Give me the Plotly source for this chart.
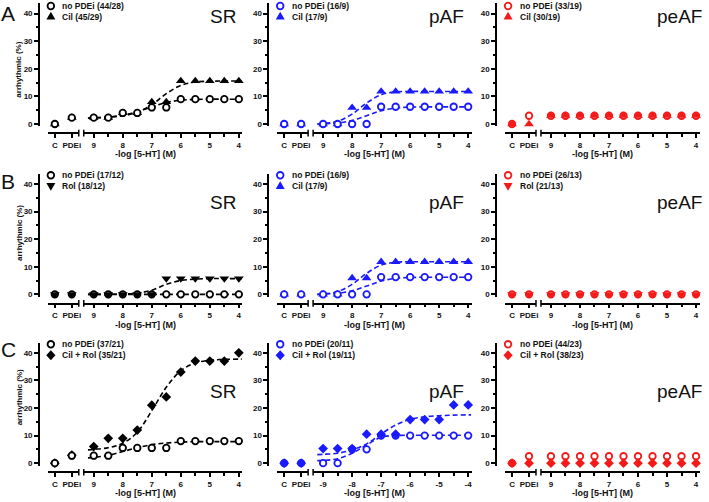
import plotly.graph_objects as go

W, H = 709, 502

# ---------------- data ----------------
conc = [9, 8.5, 8, 7.5, 7, 6.5, 6, 5.5, 5, 4.5, 4]
ctrl_labels = ["C", "PDEi"]
conc_tickvals = [9, 8, 7, 6, 5, 4]
conc_ticktext = ["9", "8", "7", "6", "5", "4"]
conc_ticktext_neg = ["-9", "-8", "-7", "-6", "-5", "-4"]
y_tickvals = [0, 10, 20, 30, 40]
fit_x = [9.2, 9.0, 8.5, 8.0, 7.5, 7.0, 6.5, 6.0, 5.5, 5.0, 4.5, 4.0, 3.9]

# Row A
a_sr_nopdei_ctrl = [0, 2.3]
a_sr_nopdei = [2.3, 2.3, 4.0, 4.0, 6.0, 6.0, 9.0, 9.0, 9.0, 9.0, 9.0]
a_sr_cil_ctrl = [0, 2.3]
a_sr_cil = [2.3, 2.3, 4.0, 4.0, 8.0, 8.0, 15.6, 15.6, 15.6, 15.6, 15.6]
a_sr_nopdei_fit = [2.1, 2.2, 2.5, 3.2, 4.5, 6.2, 7.8, 8.6, 8.9, 9.0, 9.0, 9.0, 9.0]
a_sr_cil_fit = [2.2, 2.3, 2.5, 3.0, 4.2, 7.0, 11.0, 14.0, 15.2, 15.5, 15.6, 15.6, 15.6]

a_paf_nopdei_ctrl = [0, 0]
a_paf_nopdei = [0, 0, 0, 0, 6.25, 6.25, 6.25, 6.25, 6.25, 6.25, 6.25]
a_paf_cil_ctrl = [0, 0]
a_paf_cil = [0, 0, 5.9, 5.9, 11.8, 11.8, 11.8, 11.8, 11.8, 11.8, 11.8]
a_paf_nopdei_fit = [0, 0.1, 0.4, 1.3, 3.0, 4.8, 5.8, 6.1, 6.2, 6.2, 6.2, 6.2, 6.2]
a_paf_cil_fit = [0, 0.1, 1.0, 3.6, 7.6, 10.6, 11.6, 11.8, 11.8, 11.8, 11.8, 11.8, 11.8]

a_peaf_nopdei_ctrl = [0, 3.0]
a_peaf_nopdei = [3.0, 3.0, 3.0, 3.0, 3.0, 3.0, 3.0, 3.0, 3.0, 3.0, 3.0]
a_peaf_cil_ctrl = [0, 0]
a_peaf_cil = [3.0, 3.0, 3.0, 3.0, 3.0, 3.0, 3.0, 3.0, 3.0, 3.0, 3.0]

# Row B
b_sr_nopdei_ctrl = [0, 0]
b_sr_nopdei = [0, 0, 0, 0, 0, 0, 0, 0, 0, 0, 0]
b_sr_rol_ctrl = [0, 0]
b_sr_rol = [0, 0, 0, 0, 0, 5.7, 5.7, 5.7, 5.7, 5.7, 5.7]
b_sr_nopdei_fit = [0, 0, 0, 0, 0, 0, 0, 0, 0, 0, 0, 0, 0]
b_sr_rol_fit = [0, 0, 0, 0.1, 0.4, 1.5, 3.6, 5.0, 5.5, 5.7, 5.7, 5.7, 5.7]

b_paf_nopdei_ctrl = [0, 0]
b_paf_nopdei = [0, 0, 0, 0, 6.25, 6.25, 6.25, 6.25, 6.25, 6.25, 6.25]
b_paf_cil_ctrl = [0, 0]
b_paf_cil = [0, 0, 5.9, 5.9, 11.8, 11.8, 11.8, 11.8, 11.8, 11.8, 11.8]
b_paf_nopdei_fit = [0, 0.1, 0.4, 1.3, 3.0, 4.8, 5.8, 6.1, 6.2, 6.2, 6.2, 6.2, 6.2]
b_paf_cil_fit = [0, 0.1, 1.0, 3.6, 7.6, 10.6, 11.6, 11.8, 11.8, 11.8, 11.8, 11.8, 11.8]

b_peaf_nopdei_ctrl = [0, 0]
b_peaf_nopdei = [0, 0, 0, 0, 0, 0, 0, 0, 0, 0, 0]
b_peaf_rol_ctrl = [0, 0]
b_peaf_rol = [0, 0, 0, 0, 0, 0, 0, 0, 0, 0, 0]

# Row C
c_sr_nopdei_ctrl = [0, 2.7]
c_sr_nopdei = [2.7, 2.7, 5.5, 5.5, 5.5, 5.5, 8.0, 8.0, 8.0, 8.0, 8.0]
c_sr_cilrol_ctrl = [0, 2.9]
c_sr_cilrol = [6.0, 9.0, 9.0, 12.0, 21.0, 24.0, 33.0, 37.0, 37.0, 37.0, 40.0]
c_sr_nopdei_fit = [1.9, 2.1, 2.8, 4.2, 5.6, 6.7, 7.3, 7.6, 7.8, 7.8, 7.8, 7.8, 7.8]
c_sr_cilrol_fit = [4.8, 5.0, 5.6, 7.2, 11.2, 19.0, 27.5, 33.5, 36.3, 37.3, 37.6, 37.7, 37.7]

c_paf_nopdei_ctrl = [0, 0]
c_paf_nopdei = [0, 0, 5.0, 5.0, 10.0, 10.0, 10.0, 10.0, 10.0, 10.0, 10.0]
c_paf_cilrol_ctrl = [0, 0]
c_paf_cilrol = [5.3, 5.3, 5.3, 10.5, 10.5, 10.5, 15.8, 15.8, 15.8, 21.1, 21.1]
c_paf_nopdei_fit = [0.9, 1.0, 1.6, 3.6, 6.6, 9.4, 10.0, 10.1, 10.1, 10.1, 10.1, 10.1, 10.1]
c_paf_cilrol_fit = [3.1, 3.2, 3.6, 4.8, 7.0, 10.6, 13.8, 15.9, 16.8, 17.2, 17.4, 17.5, 17.5]

c_peaf_nopdei_ctrl = [0, 2.5]
c_peaf_nopdei = [2.5, 2.5, 2.5, 2.5, 2.5, 2.5, 2.5, 2.5, 2.5, 2.5, 2.5]
c_peaf_cilrol_ctrl = [0, 0]
c_peaf_cilrol = [0, 0, 0, 0, 0, 0, 0, 0, 0, 0, 0]

panel_letters = ["A", "B", "C"]
panel_titles = ["SR", "pAF", "peAF"]
legend_labels = [
    ["no PDEi (44/28)", "Cil (45/29)"], ["no PDEi (16/9)", "Cil (17/9)"], ["no PDEi (33/19)", "Cil (30/19)"],
    ["no PDEi (17/12)", "Rol (18/12)"], ["no PDEi (16/9)", "Cil (17/9)"], ["no PDEi (26/13)", "Rol (21/13)"],
    ["no PDEi (37/21)", "Cil + Rol (35/21)"], ["no PDEi (20/11)", "Cil + Rol (19/11)"], ["no PDEi (44/23)", "Cil + Rol (38/23)"],
]

# ---------------- styling / layout ----------------
BLACK, BLUE, RED = "#000000", "#1a1aff", "#f51a1a"
col_colors = [BLACK, BLUE, RED]
row_symbol = ["triangle-up", "triangle-down", "diamond"]
FONT = "Liberation Sans, Arial, sans-serif"

panels = [
    # (nopdei_ctrl, nopdei, drug_ctrl, drug, nopdei_fit, drug_fit, drug_on_top, neg_ticks)
    (a_sr_nopdei_ctrl, a_sr_nopdei, a_sr_cil_ctrl, a_sr_cil, a_sr_nopdei_fit, a_sr_cil_fit, False, False),
    (a_paf_nopdei_ctrl, a_paf_nopdei, a_paf_cil_ctrl, a_paf_cil, a_paf_nopdei_fit, a_paf_cil_fit, False, False),
    (a_peaf_nopdei_ctrl, a_peaf_nopdei, a_peaf_cil_ctrl, a_peaf_cil, None, None, True, False),
    (b_sr_nopdei_ctrl, b_sr_nopdei, b_sr_rol_ctrl, b_sr_rol, b_sr_nopdei_fit, b_sr_rol_fit, True, False),
    (b_paf_nopdei_ctrl, b_paf_nopdei, b_paf_cil_ctrl, b_paf_cil, b_paf_nopdei_fit, b_paf_cil_fit, False, False),
    (b_peaf_nopdei_ctrl, b_peaf_nopdei, b_peaf_rol_ctrl, b_peaf_rol, None, None, True, False),
    (c_sr_nopdei_ctrl, c_sr_nopdei, c_sr_cilrol_ctrl, c_sr_cilrol, c_sr_nopdei_fit, c_sr_cilrol_fit, False, False),
    (c_paf_nopdei_ctrl, c_paf_nopdei, c_paf_cilrol_ctrl, c_paf_cilrol, c_paf_nopdei_fit, c_paf_cilrol_fit, True, True),
    (c_peaf_nopdei_ctrl, c_peaf_nopdei, c_peaf_cilrol_ctrl, c_peaf_cilrol, None, None, True, False),
]
# panel 5 (row B, pAF) shows Cil (triangle-up) like row A
symbol_override = {4: "triangle-up"}

col_x0 = [39, 269, 497.5]
row_y0 = [124.5, 295.5, 465]
row_leg = [(6, 16.6), (176, 186.7), (345.7, 356.7)]
row_title_y = [16, 202.5, 392.5]
row_ytitle_y = [70, 234, 399]
S = 2.77
Y_MIN, Y_MAX = -0.9, 43.7


def px(p):
    return p / W


def py(p):
    return 1 - p / H


fig = go.Figure()
layout = dict(
    width=W, height=H, autosize=False,
    margin=dict(l=0, r=0, t=0, b=0),
    paper_bgcolor="white", plot_bgcolor="white",
    showlegend=False,
    font=dict(family=FONT, color="#111111"),
)
shapes, annotations = [], []

tickfont = dict(family=FONT, size=8, color="#111111", weight="bold")
axis_common = dict(showline=True, linecolor="#000000", linewidth=1.5, ticks="outside",
                   tickwidth=1.5, tickcolor="#000000", showgrid=False, zeroline=False,
                   tickfont=tickfont, fixedrange=True, anchor="free")


def marker_style(symbol, color):
    if symbol == "circle":
        return dict(symbol="circle", size=6.5, color="white", line=dict(color=color, width=1.8))
    if symbol == "diamond":
        return dict(symbol="diamond", size=7.5, color=color, line=dict(width=0))
    return dict(symbol=symbol, size=8.5, color=color, line=dict(width=0))


def legend_path(symbol):
    if symbol == "triangle-up":
        return "M-4.5,-3 L4.5,-3 L0,4.8 Z"
    if symbol == "triangle-down":
        return "M-4.5,3 L4.5,3 L0,-4.8 Z"
    return "M0,5 L4.6,0 L0,-5 L-4.6,0 Z"


for k, panel in enumerate(panels):
    r, c = divmod(k, 3)
    n = k + 1
    X0, Y0 = col_x0[c], row_y0[r]
    color = col_colors[c]
    sym = symbol_override.get(k, row_symbol[r])
    nctrl, nconc, dctrl, dconc, nfit, dfit, drug_top, neg = panel

    xa_c, xa_m, ya = 2 * n - 1, 2 * n, n
    axis_y = Y0 + 9.3
    bottom_px = Y0 - Y_MIN * S
    top_px = Y0 - Y_MAX * S

    layout[f"xaxis{xa_c}"] = dict(axis_common, type="category", categoryorder="array",
                                  categoryarray=ctrl_labels, range=[-0.41, 1.41],
                                  domain=[px(X0 + 9), px(X0 + 40)], position=py(axis_y), ticklen=4)
    layout[f"xaxis{xa_m}"] = dict(axis_common, type="linear", range=[9.344, 3.88],
                                  domain=[px(X0 + 45), px(X0 + 204)], position=py(axis_y),
                                  tickvals=conc_tickvals,
                                  ticktext=conc_ticktext_neg if neg else conc_ticktext, ticklen=4,
                                  minor=dict(ticks="outside", dtick=0.5, tick0=0, ticklen=3,
                                             tickwidth=1.5, tickcolor="#000000", showgrid=False))
    layout[f"yaxis{ya}"] = dict(axis_common, range=[Y_MIN, Y_MAX], domain=[py(bottom_px), py(top_px)],
                                position=px(X0), tickvals=y_tickvals, ticklen=4,
                                minor=dict(ticks="outside", dtick=5, tick0=0, ticklen=2,
                                           tickwidth=1.5, tickcolor="#000000", showgrid=False))

    xc, xm, yy = f"x{xa_c}", f"x{xa_m}", f"y{ya}"

    # fitted curves (behind markers)
    if nfit is not None:
        for fit in (nfit, dfit):
            fig.add_trace(go.Scatter(x=fit_x, y=fit, xaxis=xm, yaxis=yy, mode="lines",
                                     line=dict(color=color, width=1.6, dash="5px,3px", shape="spline",
                                               smoothing=1.0),
                                     hoverinfo="skip"))

    series = [("circle", nctrl, nconc, legend_labels[k][0]), (sym, dctrl, dconc, legend_labels[k][1])]
    if not drug_top:
        series = series[::-1]
    for s_sym, s_ctrl, s_conc, name in series:
        ms = marker_style(s_sym, color)
        fig.add_trace(go.Scatter(x=ctrl_labels, y=s_ctrl, xaxis=xc, yaxis=yy, mode="markers",
                                 marker=ms, cliponaxis=False, name=name))
        fig.add_trace(go.Scatter(x=conc, y=s_conc, xaxis=xm, yaxis=yy, mode="markers",
                                 marker=ms, cliponaxis=False, name=name))

    # axis break caps
    for bx in (X0 + 40, X0 + 45):
        shapes.append(dict(type="line", xref="paper", yref="paper", x0=px(bx), x1=px(bx),
                           y0=py(axis_y - 3.5), y1=py(axis_y + 3.2),
                           line=dict(color="#000000", width=1.5)))

    # custom legend
    ly1, ly2 = row_leg[r]
    mx = X0 + 12
    shapes.append(dict(type="circle", xref="paper", yref="paper", xsizemode="pixel", ysizemode="pixel",
                       xanchor=px(mx), yanchor=py(ly1), x0=-3.3, x1=3.3, y0=-3.3, y1=3.3,
                       fillcolor="white", line=dict(color=color, width=1.8)))
    shapes.append(dict(type="path", xref="paper", yref="paper", xsizemode="pixel", ysizemode="pixel",
                       xanchor=px(mx), yanchor=py(ly2), path=legend_path(sym),
                       fillcolor=color, line=dict(width=0)))
    for ly, txt in ((ly1, legend_labels[k][0]), (ly2, legend_labels[k][1])):
        annotations.append(dict(text=txt, xref="paper", yref="paper", x=px(X0 + 21.5), y=py(ly),
                                xanchor="left", yanchor="middle", showarrow=False,
                                font=dict(family=FONT, size=8.5, color="#111111", weight="bold")))

    # panel title
    tx = [224, 448, 681][c]
    annotations.append(dict(text=panel_titles[c], xref="paper", yref="paper", x=px(tx),
                            y=py(row_title_y[r] + 1), xanchor="center", yanchor="middle",
                            showarrow=False, font=dict(family=FONT, size=19, color="#111111")))

    # x-axis title
    annotations.append(dict(text="-log [5-HT] (M)", xref="paper", yref="paper",
                            x=px(X0 + 107), y=py(axis_y + 21), xanchor="center", yanchor="middle",
                            showarrow=False, font=dict(family=FONT, size=9, color="#111111", weight="bold")))

    if c == 0:
        annotations.append(dict(text="arrhythmic (%)", xref="paper", yref="paper", x=px(19),
                                y=py(row_ytitle_y[r]), xanchor="center", yanchor="middle",
                                textangle=-90, showarrow=False,
                                font=dict(family=FONT, size=8, color="#111111", weight="bold")))
        annotations.append(dict(text=panel_letters[r], xref="paper", yref="paper", x=px(8.5),
                                y=py([12.5, 181.5, 349.5][r] + 1), xanchor="center", yanchor="middle",
                                showarrow=False, font=dict(family=FONT, size=21, color="#111111")))

layout["shapes"] = shapes
layout["annotations"] = annotations
fig.update_layout(**layout)
fig.write_html(
    "out.html",
    config={"displayModeBar": False},
    post_script="document.body.style.margin='0';document.body.style.overflow='hidden';",
)
